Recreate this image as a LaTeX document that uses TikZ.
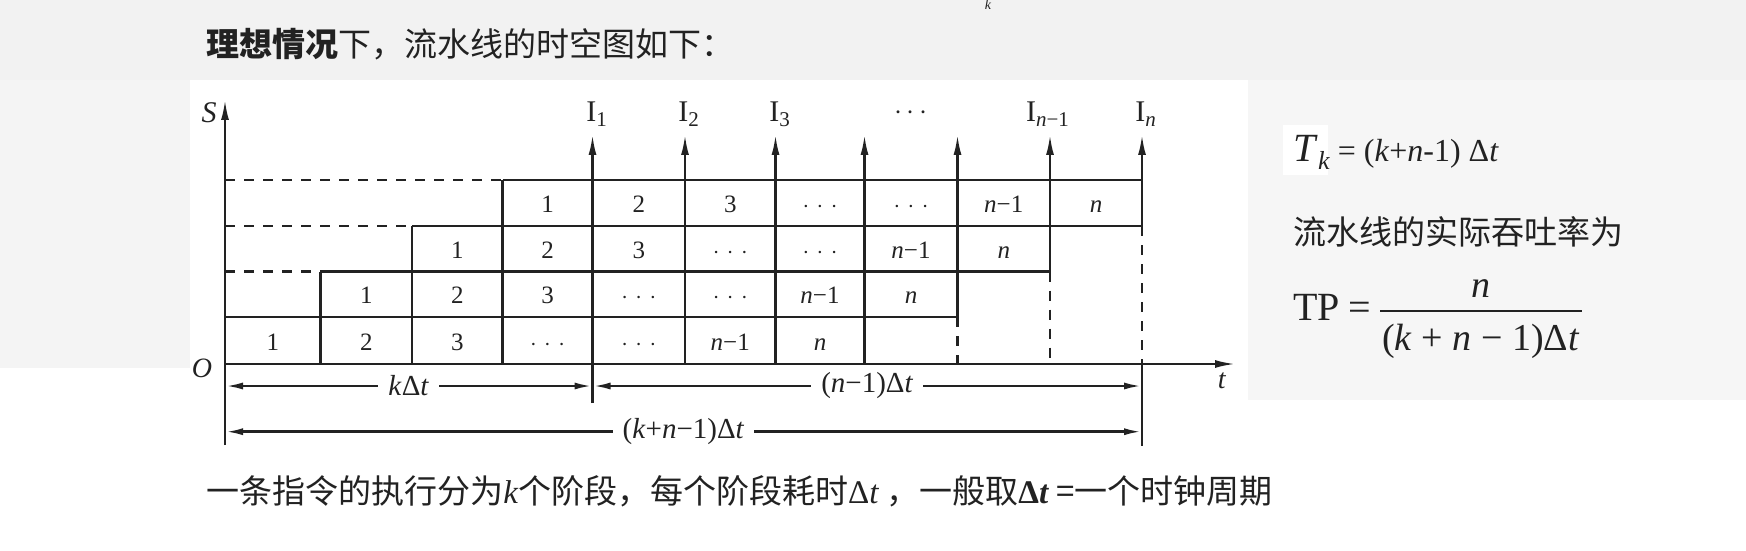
\documentclass[tikz,border=0pt]{standalone}
\usepackage{fontspec}
\setmainfont{Liberation Serif}
\newfontfamily\cjk{Noto Sans CJK SC}
\usetikzlibrary{arrows.meta,calc}
\definecolor{bgtop}{HTML}{F2F2F2}
\definecolor{bgleft}{HTML}{F4F4F4}
\definecolor{bgright}{HTML}{F6F6F6}
\definecolor{ink}{HTML}{222222}
\newcommand{\celldots}{$\cdot$\hspace{0.3em}$\cdot$\hspace{0.3em}$\cdot$}
\begin{document}
\begin{tikzpicture}[x=0.5pt,y=-0.5pt,
  ln/.style={line width=1.1pt, draw=ink},
  dsh/.style={ln, dash pattern=on 5pt off 4.5pt},
  axarrow/.style={ln, -{Latex[length=10pt,width=4pt]}},
  dimarrow/.style={line width=1.3pt, draw=ink, {Latex[length=9pt,width=3.5pt]}-{Latex[length=9pt,width=3.5pt]}},
  cell/.style={font=\fontsize{12.5pt}{14pt}\selectfont, inner sep=0pt, text=ink},
  lbl/.style={font=\fontsize{15pt}{18pt}\selectfont, inner sep=0pt, text=ink},
  dimlbl/.style={font=\fontsize{14.5pt}{17pt}\selectfont, fill=white, inner xsep=5pt, inner ysep=2pt, text=ink},
  cjktext/.style={font=\cjk\fontsize{16.5pt}{20pt}\selectfont, inner sep=0pt, anchor=west, text=ink}
]
% background
\useasboundingbox (0,0) rectangle (1746,551);
\fill[white] (0,0) rectangle (1746,551);
\fill[bgtop] (0,0) rectangle (1746,80);
\fill[bgleft] (0,80) rectangle (190,368);
\fill[bgright] (1248,80) rectangle (1746,400);
\fill[white] (1283,125) rectangle (1328,175);

% stray k at top edge
\node[font=\itshape\fontsize{7pt}{8pt}\selectfont, anchor=base, inner sep=0pt, text=ink] (topk) at (988,10) {k};

% title
\node[cjktext] (title) at (206,44.5) {{\bfseries 理想情况}下，流水线的时空图如下：};

% grid coordinates
\foreach \x [count=\i from 0] in {225,320.5,412,502.5,592.5,685,775.5,864.5,957.5,1050,1142}{
  \foreach \y [count=\j from 0] in {364,317,271.5,226,180}{
    \coordinate (p\i-\j) at (\x,\y);
  }
  \coordinate (a\i) at (\x,135);
}
\coordinate (e4) at (592.5,403);
\coordinate (e10) at (1142,446);
\coordinate (sbot) at (225,445);
\coordinate (stop) at (225,100);
\coordinate (ttip) at (1235,364);

% horizontal lines
\draw[ln] (p3-4) -- (p10-4);
\draw[dsh] (p0-4) -- (p3-4);
\draw[ln] (p2-3) -- (p10-3);
\draw[dsh] (p0-3) -- (p2-3);
\draw[ln] (p1-2) -- (p9-2);
\draw[dsh] (p0-2) -- (p1-2);
\draw[ln] (p0-1) -- (p8-1);

% vertical lines
\draw[ln] (p1-0) -- (p1-2);
\draw[ln] (p2-0) -- (p2-3);
\draw[ln] (p3-0) -- (p3-4);
\draw[axarrow] (e4) -- (a4);
\draw[axarrow] (p5-0) -- (a5);
\draw[axarrow] (p6-0) -- (a6);
\draw[axarrow] (p7-0) -- (a7);
\draw[axarrow] (p8-1) -- (a8);
\draw[dsh] (p8-1) -- (p8-0);
\draw[axarrow] (p9-2) -- (a9);
\draw[dsh] (p9-2) -- (p9-0);
\draw[axarrow] (p10-3) -- (a10);
\draw[dsh] (p10-3) -- (p10-0);
\draw[ln] (p10-0) -- (e10);

% axes
\draw[axarrow] (sbot) -- (stop);
\draw[axarrow] (p0-0) -- (ttip);
\node[lbl, anchor=base] (slbl) at (209,123) {\textit{S}};
\node[lbl, anchor=base, font=\fontsize{14pt}{17pt}\selectfont] (olbl) at (202,377) {\textit{O}};
\node[lbl, anchor=base, font=\fontsize{14pt}{17pt}\selectfont] (tlbl) at (1222,388) {\textit{t}};

% instruction labels
\node[lbl, anchor=base] (i1) at (597,122) {I\textsubscript{1}};
\node[lbl, anchor=base] (i2) at (689,122) {I\textsubscript{2}};
\node[lbl, anchor=base] (i3) at (780,122) {I\textsubscript{3}};
\node[lbl] (idots) at (911,113) {$\cdots$};
\node[lbl, anchor=base] (inm1) at (1048,122) {I\textsubscript{\textit{n}−1}};
\node[lbl, anchor=base] (in) at (1146,122) {I\textsubscript{\textit{n}}};

% cells
\foreach \r in {1,2,3,4}{
  \foreach \txt [count=\c from 0] in {1,2,3,\celldots,\celldots,\textit{n}−1,\textit{n}}{
    \pgfmathtruncatemacro\ia{\r-1+\c}
    \pgfmathtruncatemacro\ib{\r+\c}
    \pgfmathtruncatemacro\ja{\r-1}
    \node[cell, anchor=base, yshift=-4.75pt] (c\r-\c) at ($(p\ia-\ja)!0.5!(p\ib-\r)$) {\txt};
  }
}

% dimension lines
\coordinate (d0) at (225,386);
\coordinate (d4) at (592.5,386);
\coordinate (d10) at (1142,386);
\coordinate (f0) at (225,431.7);
\coordinate (f10) at (1142,431.7);
\draw[dimarrow] (d0) -- node[dimlbl] (kdt) {\textit{k}Δ\textit{t}} (d4);
\draw[dimarrow] (d4) -- node[dimlbl] (ndt) {(\textit{n}−1)Δ\textit{t}} (d10);
\draw[dimarrow] (f0) -- node[dimlbl] (kndt) {(\textit{k}+\textit{n}−1)Δ\textit{t}} (f10);

% right side formulas
\node[anchor=base west, inner sep=0pt, text=ink] (tk) at (1293,162)
  {\fontsize{20pt}{24pt}\selectfont\textit{T}\raisebox{-4pt}{\fontsize{13pt}{15pt}\selectfont\textit{k}}\fontsize{16pt}{19pt}\selectfont\ = (\textit{k}+\textit{n}-1) Δ\textit{t}};
\node[cjktext] (tptext) at (1293,231.7) {流水线的实际吞吐率为};
\node[anchor=base west, inner sep=0pt, font=\fontsize{20pt}{24pt}\selectfont, text=ink] (tp) at (1293,320) {TP\hspace{4pt}=};
\coordinate (fb0) at (1380,310.7);
\coordinate (fb1) at (1582,310.7);
\draw[line width=1.2pt, draw=ink] (fb0) -- (fb1);
\node[anchor=base, inner sep=0pt, font=\fontsize{19pt}{23pt}\selectfont, text=ink] (num) at (1481,297) {\textit{n}};
\node[anchor=base, inner sep=0pt, font=\fontsize{19pt}{23pt}\selectfont, text=ink] (den) at (1481,350)
  {(\textit{k}\hspace{0.25em}+\hspace{0.25em}\textit{n}\hspace{0.25em}−\hspace{0.25em}1)Δ\textit{t}};

% bottom note
\node[cjktext] (note) at (206,491) {一条指令的执行分为{\rmfamily\itshape k}个阶段，每个阶段耗时{\rmfamily Δ\textit{t}} ，一般取{\rmfamily\bfseries Δ\textit{t}} =一个时钟周期};
\end{tikzpicture}
\end{document}
